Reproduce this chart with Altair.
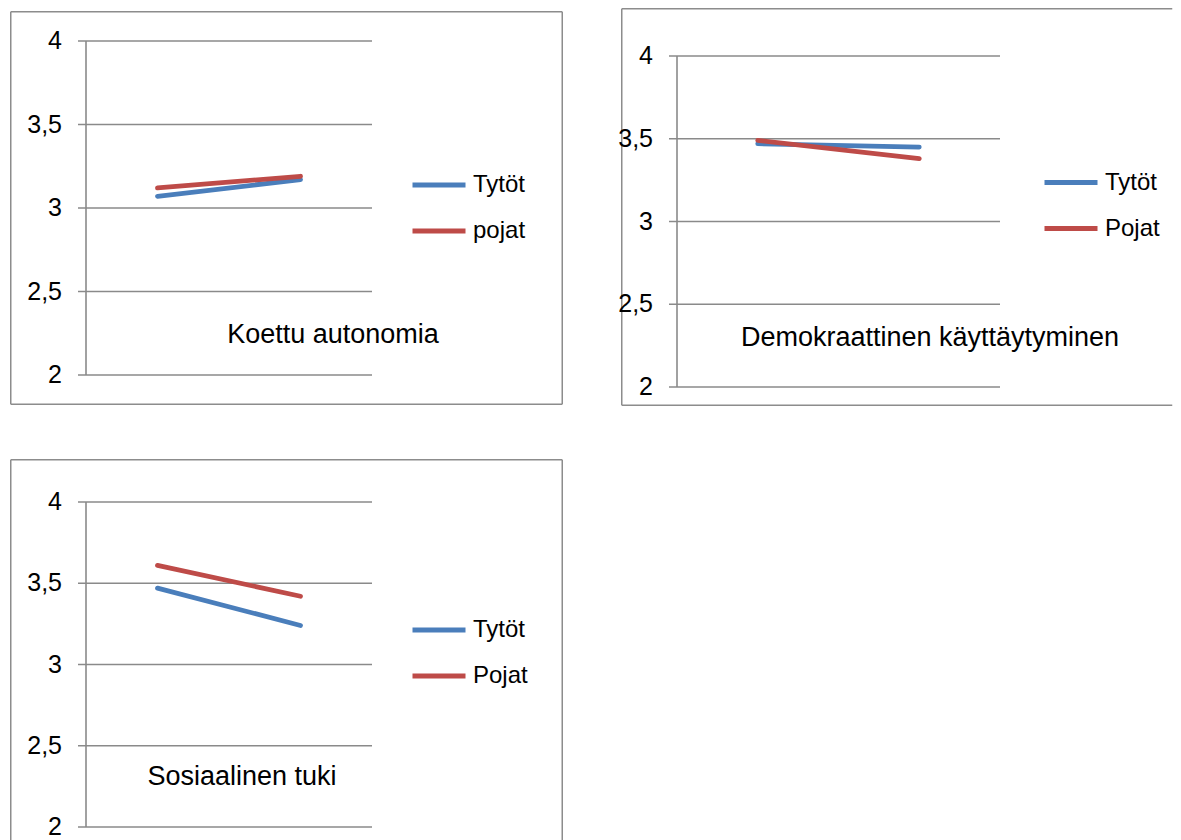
import altair as alt
import pandas as pd

# ---------------- data ----------------
categories = ["1", "2"]
titles = ["Koettu autonomia", "Demokraattinen käyttäytyminen", "Sosiaalinen tuki"]
legend_labels = [["Tytöt", "pojat"], ["Tytöt", "Pojat"], ["Tytöt", "Pojat"]]
tytot = [[3.07, 3.17], [3.47, 3.45], [3.47, 3.24]]
pojat = [[3.12, 3.19], [3.49, 3.38], [3.61, 3.42]]
tick_values = [2, 2.5, 3, 3.5, 4]
tick_labels = ["2", "2,5", "3", "3,5", "4"]
colors = ["#4A7EBB", "#BE4B48"]

FONT = "Liberation Sans"
GRID = "#8A8A8A"
BORDER = "#8C8C8C"

# ---------------- layout (page pixels) ----------------
layouts = [
    dict(px=10, py=8, w=553, h=400, ax0=86, ax1=372, y4=41, y2=375,
         border=(10, 11, 563, 405), sides="tlrb", title=(333, 335), legend=(410, 156)),
    dict(px=621, py=8, w=552, h=400, ax0=677, ax1=1000, y4=56, y2=387,
         border=(621, 8, 1173, 406), sides="tlb", title=(930, 338), legend=(1042, 153.5)),
    dict(px=10, py=459, w=553, h=386, ax0=86, ax1=372, y4=502, y2=827,
         border=(10, 459, 563, 845), sides="tlr", title=(242, 777), legend=(410, 601)),
]


def border_layer(L):
    bx0, by0, bx1, by1 = L["border"]
    x0, x1 = bx0 - L["px"] + 0.75, bx1 - L["px"] - 0.75
    y0, y1 = by0 - L["py"] + 0.75, by1 - L["py"] - 0.75
    segs = {"t": (x0, x1, y0, y0), "b": (x0, x1, y1, y1),
            "l": (x0, x0, y0, y1), "r": (x1, x1, y0, y1)}
    layers = []
    for s in L["sides"]:
        a, b, c, d = segs[s]
        layers.append(alt.Chart(pd.DataFrame({"s": [s]})).mark_rule(
            color=BORDER, strokeWidth=1.5).encode(
            x=alt.value(a), x2=alt.value(b), y=alt.value(c), y2=alt.value(d)))
    return layers


def panel(i):
    L = layouts[i]
    n = len(categories)
    ux = (L["ax1"] - L["ax0"]) / n
    x0 = L["ax0"] + ux / 2
    xdom = [(L["px"] - x0) / ux, (L["px"] + L["w"] - x0) / ux]
    uy = (L["y2"] - L["y4"]) / (tick_values[-1] - tick_values[0])
    ydom = [tick_values[0] - (L["py"] + L["h"] - L["y2"]) / uy,
            tick_values[-1] + (L["y4"] - L["py"]) / uy]
    xs = alt.Scale(domain=xdom, nice=False, zero=False)
    ys = alt.Scale(domain=ydom, nice=False, zero=False)
    lo, hi = -0.5, n - 0.5

    rows = []
    for s, vals in zip(legend_labels[i], [tytot[i], pojat[i]]):
        for j, v in enumerate(vals):
            rows.append({"series": s, "idx": j, "cat": categories[j], "value": v})
    df = pd.DataFrame(rows)
    ticks = pd.DataFrame({"v": tick_values, "label": tick_labels, "x0": lo, "x1": hi})
    axis_df = pd.DataFrame({"x": [lo], "y0": [tick_values[0]], "y1": [tick_values[-1]]})
    one = pd.DataFrame({"t": [titles[i]]})

    grid = alt.Chart(ticks).mark_rule(color=GRID, strokeWidth=1.6, xOffset=-8).encode(
        x=alt.X("x0:Q", scale=xs, axis=None), x2="x1:Q",
        y=alt.Y("v:Q", scale=ys, axis=None))

    axisline = alt.Chart(axis_df).mark_rule(color=GRID, strokeWidth=1.6).encode(
        x=alt.X("x:Q", scale=xs, axis=None),
        y=alt.Y("y0:Q", scale=ys, axis=None), y2="y1:Q")

    labels = alt.Chart(ticks).mark_text(align="right", baseline="middle", dx=-24,
                                        font=FONT, fontSize=25, color="#000").encode(
        x=alt.X("x0:Q", scale=xs, axis=None),
        y=alt.Y("v:Q", scale=ys, axis=None), text="label:N")

    lx, ly = L["legend"]
    lines = alt.Chart(df).mark_line(strokeWidth=4.8, strokeCap="round").encode(
        x=alt.X("idx:Q", scale=xs, axis=None),
        y=alt.Y("value:Q", scale=ys, axis=None),
        color=alt.Color("series:N",
                        scale=alt.Scale(domain=legend_labels[i], range=colors),
                        legend=alt.Legend(orient="none", legendX=lx - L["px"], legendY=ly - L["py"],
                                          title=None, symbolType="stroke", symbolSize=2809,
                                          symbolStrokeWidth=4.8, labelFont=FONT, labelFontSize=24,
                                          labelColor="#000", labelOffset=5, padding=0, rowPadding=5,
                                          direction="vertical")),
        order="idx:Q")

    tx, ty = L["title"]
    title = alt.Chart(one).mark_text(font=FONT, fontSize=27, align="center", baseline="middle",
                                     color="#000").encode(
        x=alt.value(tx - L["px"]), y=alt.value(ty - L["py"]), text="t:N")

    return alt.layer(*border_layer(L), grid, axisline, labels, lines, title).properties(
        width=L["w"], height=L["h"])


chart = alt.concat(panel(0), panel(1), panel(2), columns=2, bounds="flush",
                   spacing={"row": 51, "column": 58}).resolve_scale(
    color="independent", x="independent", y="independent").resolve_legend(
    color="independent").properties(
    padding={"left": 2, "top": 0, "right": 0, "bottom": 0},
    background="white").configure_view(stroke=None)

chart.save("out.html", embed_options={"renderer": "svg", "actions": False})
